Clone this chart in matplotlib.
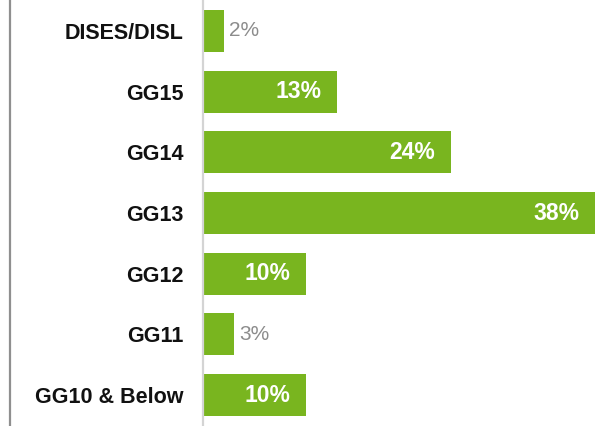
import matplotlib
matplotlib.use('Agg')
import matplotlib.pyplot as plt
from matplotlib.lines import Line2D

# grade distribution
grades = ['DISES/DISL', 'GG15', 'GG14', 'GG13', 'GG12', 'GG11', 'GG10 & Below']
shares = [2, 13, 24, 38, 10, 3, 10]

green = '#79b51f'
plt.rcParams['font.family'] = ['Liberation Sans', 'DejaVu Sans']

fig = plt.figure(figsize=(5.97, 4.26), dpi=100)
ax = fig.add_axes([203 / 597, 0, 1 - 203 / 597, 1])

pos = list(range(len(grades)))
ax.barh(pos, shares, height=0.69, color=green, left=0)
ax.set_xlim(0, 38.2)
ax.set_ylim(6.51, -0.51)

for p, v in zip(pos, shares):
    if v >= 5:
        ax.annotate('{}%'.format(v), xy=(v, p), xytext=(-11, 0), textcoords='offset points',
                    ha='right', va='center', color='white', fontsize=16.5, fontweight='bold')
    else:
        ax.annotate('{}%'.format(v), xy=(v, p), xytext=(4, 0), textcoords='offset points',
                    ha='left', va='center', color='#8c8c8c', fontsize=15)

ax.set_yticks(pos)
ax.set_yticklabels(grades, fontsize=15.5, fontweight='bold', color='#111111')
ax.tick_params(axis='y', length=0, pad=14)
ax.set_xticks([])
for s in ['top', 'right', 'bottom']:
    ax.spines[s].set_visible(False)
ax.spines['left'].set_color('#d4d4d4')
ax.spines['left'].set_linewidth(1.6)

# outer frame edge on the left
fig.add_artist(Line2D([9.5 / 597, 9.5 / 597], [0, 1], transform=fig.transFigure,
                      color='#8f8f8f', linewidth=1.6))

fig.savefig('out.png', dpi=100)
